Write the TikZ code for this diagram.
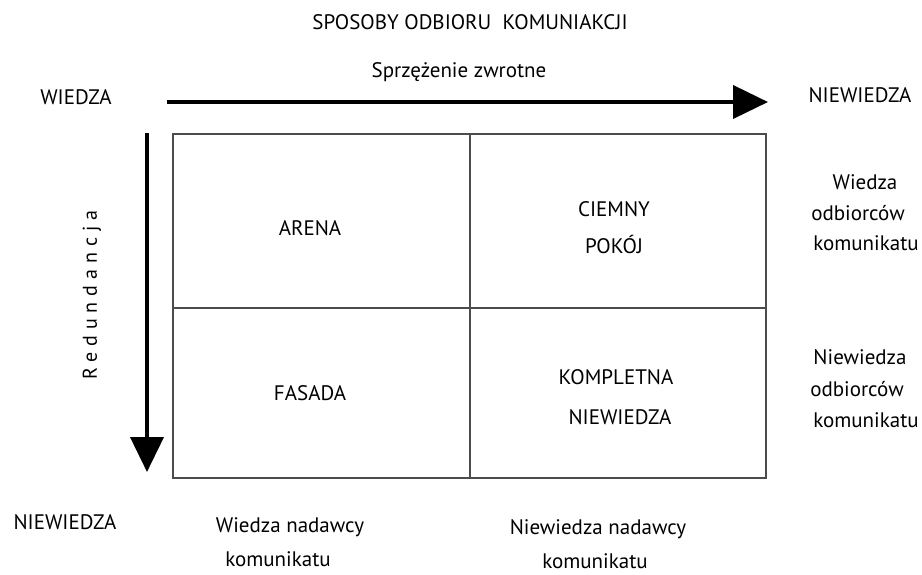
\documentclass[tikz,border=0pt]{standalone}
\usepackage{fontspec}
\setmainfont{PT Sans}
\usetikzlibrary{arrows.meta}
\begin{document}
\begin{tikzpicture}[x=1pt,y=-1pt,
  lbl/.style={font=\fontsize{21}{21}\selectfont, inner sep=0pt, anchor=center},
  axis/.style={line width=4pt, -{Triangle[length=35pt,width=33pt]}},
  grid/.style={draw=black!70, line width=1.4pt}]
\useasboundingbox (0,0) rectangle (922,574);

% title and axis labels
\node[lbl] (title) at (470,22) {SPOSOBY ODBIORU\ \ KOMUNIAKCJI};
\node[lbl] (feedback) at (459,72) {Sprzężenie zwrotne};
\node[lbl] (knowTL) at (76,97) {WIEDZA};
\node[lbl] (unknowTR) at (860,95) {NIEWIEDZA};
\node[lbl] (unknowBL) at (65,522) {NIEWIEDZA};
\node[lbl, font=\fontsize{20}{20}\selectfont, rotate=90] (redund) at (92,295)
  {\addfontfeature{LetterSpace=30}Redundancja};

% axes
\coordinate (hstart) at (167,102);
\coordinate (hend) at (768,102);
\coordinate (vstart) at (147,133);
\coordinate (vend) at (147,472);
\draw[axis] (hstart) -- (hend);
\draw[axis] (vstart) -- (vend);

% the four-field grid
\coordinate (tl) at (173,134);
\coordinate (br) at (766,478);
\coordinate (mt) at (470,134);
\coordinate (mb) at (470,478);
\coordinate (ml) at (173,308);
\coordinate (mr) at (766,308);
\draw[grid] (tl) rectangle (br);
\draw[grid] (mt) -- (mb);
\draw[grid] (ml) -- (mr);

% field names
\node[lbl] (arena) at (310,228) {ARENA};
\node[lbl] (dark1) at (614,209) {CIEMNY};
\node[lbl] (dark2) at (614,244) {POKÓJ};
\node[lbl] (facade) at (310,393) {FASADA};
\node[lbl] (compl1) at (616,377) {KOMPLETNA};
\node[lbl] (compl2) at (620,417) {NIEWIEDZA};

% receivers (right)
\node[lbl] (rk1) at (865,182) {Wiedza};
\node[lbl] (rk2) at (858,213) {odbiorców};
\node[lbl] (rk3) at (866,243) {komunikatu};
\node[lbl] (rn1) at (860,357) {Niewiedza};
\node[lbl] (rn2) at (857,389) {odbiorców};
\node[lbl] (rn3) at (866,420) {komunikatu};

% senders (bottom)
\node[lbl] (sk1) at (290,527) {Wiedza nadawcy};
\node[lbl] (sk2) at (278,559) {komunikatu};
\node[lbl] (sn1) at (598,529) {Niewiedza nadawcy};
\node[lbl] (sn2) at (595,561) {komunikatu};
\end{tikzpicture}
\end{document}
